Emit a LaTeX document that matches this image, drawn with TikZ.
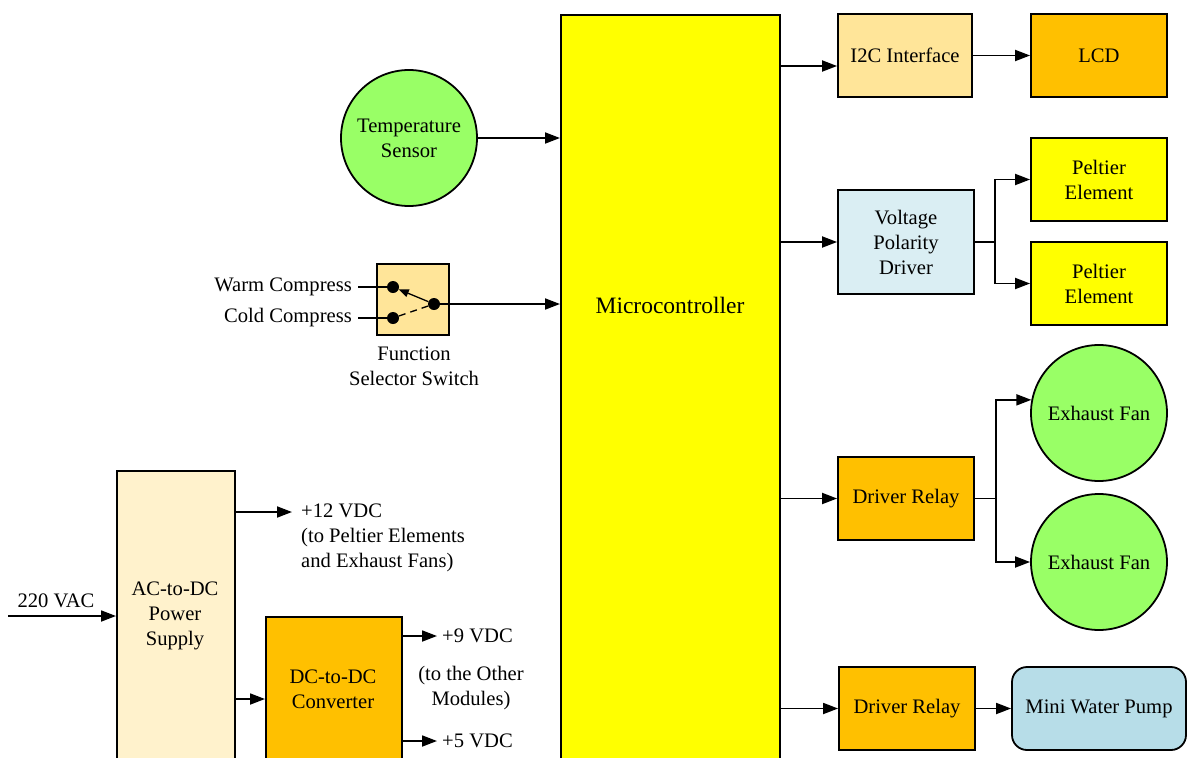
\documentclass[tikz,border=0pt]{standalone}
\usepackage{fontspec}
\setmainfont{Liberation Serif}
\usetikzlibrary{arrows.meta}
\definecolor{cyel}{HTML}{FFFF00}
\definecolor{cgreen}{HTML}{99FF66}
\definecolor{corangel}{HTML}{FFE599}
\definecolor{corange}{HTML}{FFC000}
\definecolor{ccream}{HTML}{FFF2CC}
\definecolor{clblue}{HTML}{DAEEF3}
\definecolor{cpump}{HTML}{B7DDE8}
\begin{document}
\begin{tikzpicture}[x=1pt,y=-1pt,
  inner sep=0pt,
  font=\fontsize{20.6}{25}\selectfont,
  box/.style={draw, line width=1.8pt, align=center},
  arr/.style={line width=1.8pt, -{Triangle[length=15pt,width=11pt]}},
  ln/.style={line width=1.8pt},
  dotn/.style={circle, fill=black, minimum size=12pt, inner sep=0pt}]
\useasboundingbox (0,0) rectangle (1187,758);
\clip (0,0) rectangle (1187,758);

% Microcontroller
\node[box, fill=cyel, minimum width=219pt, minimum height=780pt, anchor=north west] (micro) at (560,14) {};
\node[font=\fontsize{23.5}{28}\selectfont] (mctxt) at (670,305) {Microcontroller};

% Temperature sensor
\node[box, circle, fill=cgreen, minimum size=136pt] (temp) at (409,138) {Temperature\\Sensor};
\draw[arr] (temp) -- (micro.west |- temp);

% Function selector switch
\node[box, fill=corangel, minimum width=72pt, minimum height=71pt] (sw) at (413,299.5) {};
\node[dotn] (dw) at (393,287) {};
\node[dotn] (dc) at (393,318) {};
\node[dotn] (dcom) at (434,304) {};
\coordinate (wl) at (358,287);
\coordinate (cl) at (358,318);
\draw[ln] (wl) -- (dw);
\draw[ln] (cl) -- (dc);
\draw[line width=1.3pt, -{Triangle[length=10pt,width=8pt]}] (dcom) -- (dw);
\draw[line width=1.3pt, dash pattern=on 7pt off 5pt] (dc) -- (dcom);
\node[anchor=east] (wtxt) at (352,287) {Warm Compress};
\node[anchor=east] (ctxt) at (352,318) {Cold Compress};
\node[align=center] (swtxt) at (414,366) {Function\\Selector Switch};
\draw[arr] (dcom) -- (micro.west |- dcom);

% AC-to-DC power supply
\node[box, fill=ccream, minimum width=118pt, minimum height=320pt, anchor=north west] (acdc) at (116,470) {};
\node[align=center] (acdctxt) at (175,616) {AC-to-DC\\Power\\Supply};
\coordinate (vin) at (8,616);
\draw[arr] (vin) -- (acdc.west |- vin);
\node (vactxt) at (56,601) {220 VAC};
\coordinate (p12) at (292,512);
\draw[arr] (acdc.east |- p12) -- (p12);
\node[anchor=west, align=left] (t12) at (301,538) {+12 VDC\\(to Peltier Elements\\and Exhaust Fans)};

% DC-to-DC converter
\node[box, fill=corange, minimum width=136pt, minimum height=200pt, anchor=north west] (dcdc) at (265,616) {};
\node[align=center] (dcdctxt) at (333,689) {DC-to-DC\\Converter};
\draw[arr] (acdc.east |- 0,699) -- (dcdc.west |- 0,699);
\coordinate (p9) at (437,636);
\draw[arr] (dcdc.east |- p9) -- (p9);
\node[anchor=west] (t9) at (442,636) {+9 VDC};
\node[align=center] (tother) at (471,688) {(to the Other\\Modules)};
\coordinate (p5) at (437,741);
\draw[arr] (dcdc.east |- p5) -- (p5);
\node[anchor=west] (t5) at (442,741) {+5 VDC};

% I2C and LCD
\node[box, fill=corangel, minimum width=134pt, minimum height=83pt] (i2c) at (905,55.5) {I2C Interface};
\node[box, fill=corange, minimum width=136pt, minimum height=83pt] (lcd) at (1099,55.5) {LCD};
\draw[arr] (micro.east |- 0,66) -- (i2c.west |- 0,66);
\draw[arr] (i2c) -- (lcd);

% Voltage polarity driver and Peltier elements
\node[box, fill=clblue, minimum width=136pt, minimum height=104pt] (vpd) at (906,242) {Voltage\\Polarity\\Driver};
\node[box, fill=cyel, minimum width=136pt, minimum height=83pt] (pe1) at (1099,179.5) {Peltier\\Element};
\node[box, fill=cyel, minimum width=136pt, minimum height=83pt] (pe2) at (1099,283.5) {Peltier\\Element};
\draw[arr] (micro.east |- vpd) -- (vpd);
\draw[arr] (vpd.east) -- ++(20,0) |- (pe1);
\draw[arr] (vpd.east) -- ++(20,0) |- (pe2);

% Driver relay and exhaust fans
\node[box, fill=corange, minimum width=136pt, minimum height=83pt] (rel1) at (906,498.5) {Driver Relay};
\node[box, circle, fill=cgreen, minimum size=136pt] (fan1) at (1099,413) {Exhaust Fan};
\node[box, circle, fill=cgreen, minimum size=136pt] (fan2) at (1099,562) {Exhaust Fan};
\draw[arr] (micro.east |- rel1) -- (rel1);
\draw[arr] (rel1.east) -- ++(21,0) |- (fan1.169);
\draw[arr] (rel1.east) -- ++(21,0) |- (fan2);

% Driver relay and pump
\node[box, fill=corange, minimum width=136pt, minimum height=83pt] (rel2) at (907,708.5) {Driver Relay};
\node[box, rounded corners=15pt, fill=cpump, minimum width=174pt, minimum height=83pt] (pump) at (1099,708.5) {Mini Water Pump};
\draw[arr] (micro.east |- rel2) -- (rel2);
\draw[arr] (rel2) -- (pump);
\end{tikzpicture}
\end{document}
